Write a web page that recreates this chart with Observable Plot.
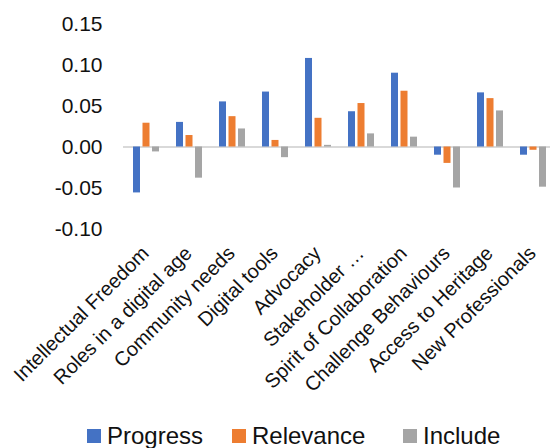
<!DOCTYPE html>
<html>
<head>
<meta charset="utf-8">
<script src="https://cdn.jsdelivr.net/npm/d3@7"></script>
<script src="https://cdn.jsdelivr.net/npm/@observablehq/plot@0.6"></script>
<style>
  html, body { margin: 0; padding: 0; background: #fff; }
  #chart { position: relative; width: 550px; height: 448px; font-family: "Liberation Sans", Arial, sans-serif; }
  #chart g[aria-label="y-axis tick label"] { font-size: 21px; }
  #chart g[aria-label="x-axis tick label"] { font-size: 20px; }
  .legend { position: absolute; top: 416px; left: 0; width: 550px; height: 39px; }
  .item { position: absolute; top: 0; height: 39px; display: flex; align-items: center; font-size: 24px; color: #111; white-space: nowrap; }
  .sw { width: 14px; height: 14px; margin-right: 6px; }
</style>
</head>
<body>
<div id="chart"></div>
<script>
const categories = ["Intellectual Freedom", "Roles in a digital age", "Community needs", "Digital tools", "Advocacy", "Stakeholder …", "Spirit of Collaboration", "Challenge Behaviours", "Access to Heritage", "New Professionals"];
const seriesNames = ["Progress", "Relevance", "Include"];
const seriesColors = ["#4472C4", "#ED7D31", "#A5A5A5"];
const progress  = [-0.056, 0.030, 0.055, 0.067, 0.108, 0.043, 0.090, -0.010, 0.066, -0.010];
const relevance = [ 0.029, 0.014, 0.037, 0.008, 0.035, 0.053, 0.068, -0.020, 0.059, -0.004];
const include   = [-0.006, -0.038, 0.022, -0.013, 0.002, 0.016, 0.012, -0.050, 0.044, -0.049];
const yTicks = [-0.10, -0.05, 0.00, 0.05, 0.10, 0.15];
const legendX = [87, 232, 403];

const seriesValues = [progress, relevance, include];
const rows = [];
seriesNames.forEach((s, si) => categories.forEach((c, ci) => rows.push({category: c, series: s, value: seriesValues[si][ci]})));

const insets = [[0, 19], [9.5, 9.5], [19, 0]];
const bars = seriesNames.map((s, si) => Plot.barY(rows.filter(d => d.series === s), {
  x: "category", y: "value", fill: "series",
  insetLeft: insets[si][0], insetRight: insets[si][1]
}));

const plot = Plot.plot({
  width: 550,
  height: 410,
  marginLeft: 123,
  marginRight: 0,
  marginTop: 23.5,
  marginBottom: 181.5,
  style: { fontFamily: "Liberation Sans, Arial, sans-serif", color: "#111", background: "transparent" },
  x: { domain: categories, range: [123, 557], paddingInner: 0.387, paddingOuter: 0.194, label: null, axis: null },
  y: { domain: [-0.10, 0.15], nice: false, label: null, axis: null },
  color: { domain: seriesNames, range: seriesColors },
  marks: [
    Plot.axisY({ ticks: yTicks, tickSize: 0, tickPadding: 21, tickFormat: d => d.toFixed(2), label: null }),
    Plot.axisX({ tickSize: 0, tickPadding: 21, dx: -1, tickRotate: -45, label: null }),
    Plot.ruleY([0], { stroke: "#d9d9d9", strokeWidth: 2 }),
    ...bars
  ]
});

const chart = document.getElementById("chart");
chart.appendChild(plot);
plot.style.position = "absolute";
plot.style.left = "0";
plot.style.top = "0";

const legend = document.createElement("div");
legend.className = "legend";
seriesNames.forEach((s, i) => {
  const item = document.createElement("div");
  item.className = "item";
  item.style.left = legendX[i] + "px";
  const sw = document.createElement("span");
  sw.className = "sw";
  sw.style.background = seriesColors[i];
  const t = document.createElement("span");
  t.textContent = s;
  item.appendChild(sw);
  item.appendChild(t);
  legend.appendChild(item);
});
chart.appendChild(legend);
</script>
</body>
</html>
